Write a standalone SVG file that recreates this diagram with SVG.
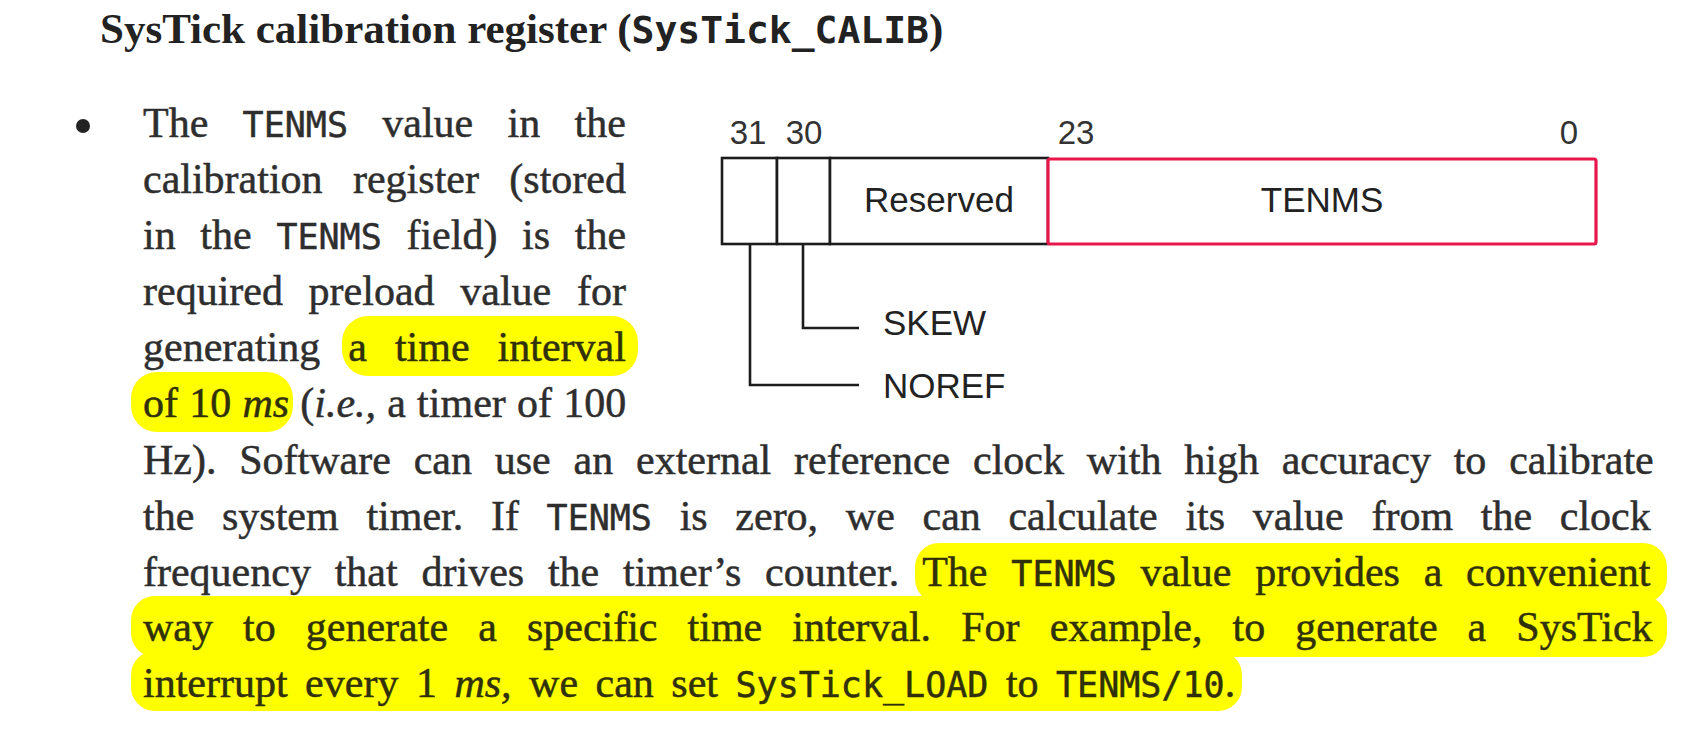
<svg xmlns="http://www.w3.org/2000/svg" width="1708" height="753" viewBox="0 0 1708 753">
<style>
.body{font-family:"Liberation Serif","Times New Roman",serif;font-size:42px;fill:#2e2e2e;stroke:#2e2e2e;stroke-width:0.5}
.m{font-family:"DejaVu Sans Mono","Liberation Mono",monospace;font-size:35px}
.i{font-style:italic}
.hl{fill:#30300a;stroke:#30300a}
.title{font-family:"Liberation Serif","Times New Roman",serif;font-size:43px;font-weight:bold;fill:#222}
.tm{font-family:"DejaVu Sans Mono","Liberation Mono",monospace;font-size:38px;font-weight:bold}
.lab{font-family:"Liberation Sans",Arial,sans-serif;font-size:35px;fill:#222}
.num{font-family:"Liberation Sans",Arial,sans-serif;font-size:33px;fill:#333;text-anchor:middle}
.ylw{fill:#FFFF00}
.blk{fill:#fff;stroke:#1c1c1c;stroke-width:2.6}
.red{fill:none;stroke:#E8174B;stroke-width:3.2}
.wire{fill:none;stroke:#1c1c1c;stroke-width:2.6}
</style>
<rect width="1708" height="753" fill="#fff"/>

<g id="highlights">
<rect class="ylw" x="342" y="316" width="296" height="60" rx="26"/>
<rect class="ylw" x="131" y="372" width="162" height="60" rx="26"/>
<rect class="ylw" x="915" y="543" width="752" height="60" rx="24"/>
<rect class="ylw" x="131" y="596" width="1536" height="61" rx="24"/>
<rect class="ylw" x="131" y="651" width="1111" height="60" rx="24"/>
</g>

<g id="title">
<text class="title" x="100" y="43">SysTick calibration register (<tspan class="tm">SysTick_CALIB</tspan>)</text>
</g>

<g id="paragraph">
<circle cx="83" cy="126" r="7" fill="#222"/>
<text class="body" x="143" y="137" word-spacing="23.8">The <tspan class="m">TENMS</tspan> value in the</text>
<text class="body" x="143" y="193" word-spacing="19.9">calibration register (stored</text>
<text class="body" x="143" y="249" word-spacing="14.2">in the <tspan class="m">TENMS</tspan> field) is the</text>
<text class="body" x="143" y="305" word-spacing="15.2">required preload value for</text>
<text class="body" x="143" y="361" word-spacing="17.5">generating <tspan class="hl">a time interval</tspan></text>
<text class="body" x="143" y="417" word-spacing="0.7"><tspan class="hl">of 10 <tspan class="i">ms</tspan></tspan> (<tspan class="i">i.e.,</tspan> a timer of 100</text>
<text class="body" x="143" y="474" word-spacing="12.3">Hz). Software can use an external reference clock with high accuracy to calibrate</text>
<text class="body" x="143" y="530" word-spacing="17.2">the system timer. If <tspan class="m">TENMS</tspan> is zero, we can calculate its value from the clock</text>
<text class="body" x="143" y="586" word-spacing="13.3">frequency that drives the timer’s counter. <tspan class="hl">The <tspan class="m">TENMS</tspan> value provides a convenient</tspan></text>
<text class="body hl" x="143" y="641" word-spacing="19.6">way to generate a specific time interval. For example, to generate a SysTick</text>
<text class="body hl" x="143" y="697" word-spacing="7">interrupt every 1 <tspan class="i">ms,</tspan> we can set <tspan class="m">SysTick_LOAD</tspan> to <tspan class="m">TENMS/10</tspan>.</text>
</g>

<g id="register">
<g id="bit-numbers">
<text class="num" x="748" y="144">31</text>
<text class="num" x="804" y="144">30</text>
<text class="num" x="1076" y="144">23</text>
<text class="num" x="1569" y="144">0</text>
</g>
<g id="field-noref"><rect class="blk" x="722" y="158" width="55" height="86"/></g>
<g id="field-skew"><rect class="blk" x="777" y="158" width="53" height="86"/></g>
<g id="field-reserved"><rect class="blk" x="830" y="158" width="218" height="86"/>
<text class="lab" x="939" y="212" text-anchor="middle">Reserved</text></g>
<g id="field-tenms"><rect fill="#fff" x="1048" y="158" width="548" height="86"/>
<rect class="red" x="1048" y="159" width="548" height="85" rx="2"/>
<text class="lab" x="1322" y="212" text-anchor="middle">TENMS</text></g>
</g>

<g id="labels">
<g id="skew"><text class="lab" x="883" y="335">SKEW</text></g>
<g id="noref"><text class="lab" x="883" y="398">NOREF</text></g>
</g>

<g id="connectors">
<polyline class="wire" points="803,244 803,328 859,328"/>
<polyline class="wire" points="750,244 750,385 859,385"/>
</g>
</svg>
